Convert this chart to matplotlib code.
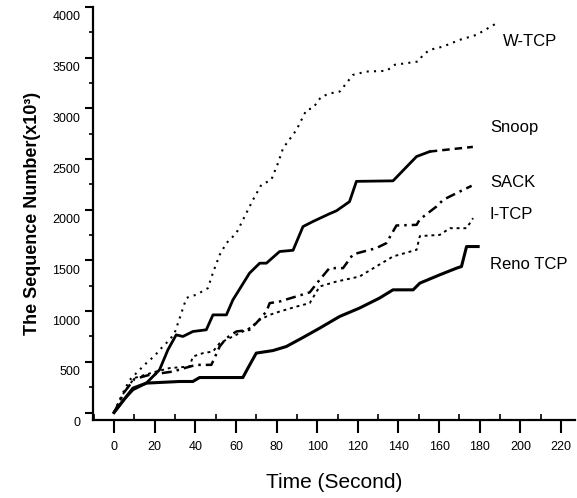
import matplotlib
matplotlib.use("Agg")
import matplotlib.pyplot as plt
import matplotlib.transforms as mtransforms
from matplotlib.ticker import MultipleLocator

plt.rcParams['font.family'] = ['Liberation Sans', 'DejaVu Sans']

# curves (time in s, sequence number x10^3)
wtcp_t = [0, 4, 7.6, 12, 15.9, 20, 24, 27.3, 29.8, 32.3, 35.6, 37.2, 40.5, 46.2, 48.7, 52, 55.3,
          60.2, 65.1, 68.4, 72.5, 77.4, 80.7, 83.2, 89.8, 94.7, 97.9, 102, 107, 111.1, 117.6,
          124.2, 134.1, 138.2, 149.7, 152.1, 155.4, 162, 170.2, 178.4, 188.3]
wtcp_v = [0, 180, 318, 410, 487, 560, 651, 716, 783, 930, 1128, 1144, 1161, 1227, 1380, 1555, 1671,
          1769, 1966, 2098, 2246, 2295, 2460, 2607, 2788, 2985, 3002, 3116, 3150, 3166, 3330,
          3363, 3370, 3430, 3462, 3528, 3577, 3610, 3676, 3725, 3840]

snoop_t = [0, 5, 9.3, 15.9, 22.4, 26.5, 30.6, 33.9, 38.8, 45.4, 48.7, 55.3, 58.5, 66.7, 71.7, 75,
           81.5, 88.1, 93, 97.9, 106, 109.5, 115.9, 119.3, 137.3, 148.9, 155.4, 165, 176.6]
snoop_v = [0, 130, 224, 290, 421, 618, 766, 750, 799, 816, 963, 963, 1111, 1375, 1473, 1473,
           1588, 1600, 1834, 1884, 1960, 1990, 2080, 2280, 2285, 2525, 2574, 2595, 2620]

sack_t = [0, 5, 10, 17.5, 29, 35, 40.5, 47.9, 52, 55.3, 60.2, 66.7, 70, 75, 76.6, 81.5, 96.3,
          101.2, 106, 112.7, 117.6, 129, 134, 139, 148.9, 150.5, 158.7, 162, 170.2, 176]
sack_v = [0, 200, 330, 372, 404, 440, 470, 470, 651, 734, 799, 816, 882, 996, 1079, 1095, 1185,
          1309, 1424, 1424, 1560, 1621, 1670, 1845, 1851, 1905, 2032, 2098, 2180, 2236]

itcp_t = [0, 5, 10, 20, 27.3, 37.2, 38.8, 43.7, 48.7, 52, 56.9, 61.8, 66.7, 71.7, 76.6, 81.5,
          89.8, 96.3, 101.2, 109.5, 120.8, 129, 137.3, 148.9, 150.5, 160.3, 165.3, 173.5, 176.7]
itcp_v = [0, 200, 340, 400, 438, 454, 552, 585, 602, 684, 734, 783, 832, 914, 963, 996,
          1045, 1079, 1243, 1292, 1341, 1440, 1539, 1605, 1740, 1752, 1818, 1818, 1917]

reno_t = [0, 5, 9.3, 15.9, 32.3, 38.8, 42.1, 63.4, 65.9, 70, 78.2, 84.8, 93, 101.2, 111, 120.8,
          130.6, 137.3, 147.2, 150.5, 160.3, 168.6, 171, 173.5, 179.2]
reno_v = [0, 130, 240, 290, 306, 306, 345, 345, 438, 586, 611, 651, 740, 832, 947, 1030,
          1128, 1210, 1210, 1276, 1358, 1424, 1440, 1637, 1637]

names = ["W-TCP", "Snoop", "SACK", "I-TCP", "Reno TCP"]
label_x = [191.5, 185, 185, 185, 185]
label_y = [3655, 2810, 2265, 1950, 1456]

fig = plt.figure(figsize=(5.77, 4.98), dpi=100)
ax = fig.add_axes([0.161, 0.157, 0.836, 0.829])

ax.plot(wtcp_t, wtcp_v, color='black', lw=1.5, linestyle=(0, (1, 2.5)))
tail = 26  # Snoop turns dashed near the end
ax.plot(snoop_t[:tail + 1], snoop_v[:tail + 1], color='black', lw=2.0)
ax.plot(snoop_t[tail:], snoop_v[tail:], color='black', lw=1.8, linestyle=(0, (3, 2)))
ax.plot(sack_t, sack_v, color='black', lw=1.8, linestyle=(0, (4, 2, 1, 2)))
ax.plot(itcp_t, itcp_v, color='black', lw=1.4, linestyle=(0, (1.5, 2)))
ax.plot(reno_t, reno_v, color='black', lw=2.2)

for n, lx, ly in zip(names, label_x, label_y):
    ax.text(lx, ly, n, fontsize=12, va='center', ha='left')

ax.set_xlim(-10.4, 227)
ax.set_ylim(-72, 4000)
ax.xaxis.set_minor_locator(MultipleLocator(10))
ax.yaxis.set_minor_locator(MultipleLocator(250))
ax.set_xticks(range(0, 221, 20))
ax.set_yticks(range(0, 4001, 500))

for s in ['top', 'right']:
    ax.spines[s].set_visible(False)
for s in ['left', 'bottom']:
    ax.spines[s].set_linewidth(1.6)

ax.tick_params(axis='x', which='major', direction='out', length=9, width=1.5, labelsize=9, pad=6)
ax.tick_params(axis='x', which='minor', direction='in', length=4, width=1.2)
ax.tick_params(axis='y', which='major', direction='out', length=6, width=1.5, labelsize=9, pad=3)
ax.tick_params(axis='y', which='minor', direction='out', length=3, width=1.2)

# in the scan the y labels sit a little below their ticks
shift = mtransforms.ScaledTranslation(0, -0.09, fig.dpi_scale_trans)
for lbl in ax.get_yticklabels():
    lbl.set_transform(lbl.get_transform() + shift)

ax.set_xlabel("Time (Second)", fontsize=15, labelpad=15)
ax.set_ylabel("The Sequence Number(x10³)", fontsize=13, fontweight='bold', labelpad=8)

fig.savefig("out.png", dpi=100)
